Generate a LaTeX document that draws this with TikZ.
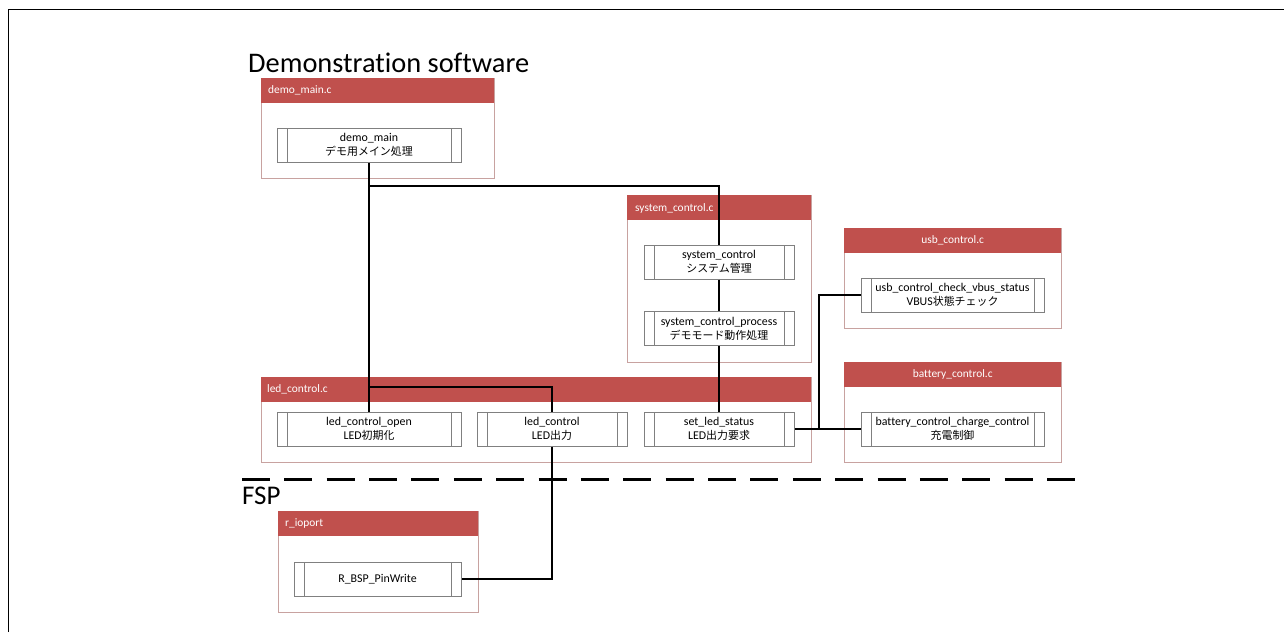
\documentclass[tikz,border=0pt]{standalone}
\usepackage{fontspec}
\setmainfont{Carlito}[Ligatures=NoCommon]
\newfontfamily\cjk{Noto Sans CJK JP}[Scale=0.92]
\definecolor{hdr}{HTML}{C0504D}
\definecolor{cframe}{RGB}{200,162,160}
\definecolor{fgray}{RGB}{128,128,128}
\pgfdeclarelayer{back}
\pgfsetlayers{back,main}
\begin{document}
\begin{tikzpicture}[x=1pt,y=-1pt,
  cbody/.style={draw=cframe, line width=1pt, fill=white, inner sep=0pt, anchor=north west},
  chead/.style={fill=hdr, inner sep=0pt, minimum height=25pt, anchor=north west},
  htext/.style={text=white, font=\fontsize{11.4}{13}\selectfont, inner sep=0pt},
  fbox/.style={draw=fgray, line width=1pt, fill=white, minimum width=#1,
    minimum height=34pt, inner sep=0pt, align=center,
    font=\fontsize{11.9}{14}\selectfont,
    path picture={\draw[fgray, line width=1pt]
      ([xshift=10pt]path picture bounding box.north west) -- ([xshift=10pt]path picture bounding box.south west)
      ([xshift=-10pt]path picture bounding box.north east) -- ([xshift=-10pt]path picture bounding box.south east);}},
  wire/.style={line width=1.8pt, black},
  sep/.style={line width=3pt, black, dash pattern=on 28pt off 14.37pt},
  heading/.style={font=\fontsize{28.4}{31}\selectfont, inner sep=0pt, anchor=base west}
]
\useasboundingbox (0,0) rectangle (1284,632);

% outer frame
\draw[line width=1.5pt] (8.5,632) -- (8.5,9.5) -- (1284,9.5);

% section headings and divider
\node[heading] (title) at (248,72) {Demonstration software};
\node[heading, font=\fontsize{27}{30}\selectfont] (fsp) at (242,504) {FSP};
\draw[sep] (242,479) -- (1075,479);

% source-file containers
\begin{pgfonlayer}{back}
\node[cbody, minimum width=233pt, minimum height=100pt] (demoC) at (261,78) {};
\node[chead, minimum width=233pt] (demoH) at (261,78) {};
\node[cbody, minimum width=184pt, minimum height=167pt] (sysC) at (627,195) {};
\node[chead, minimum width=184pt] (sysH) at (627,195) {};
\node[cbody, minimum width=217pt, minimum height=100pt] (usbC) at (844,228) {};
\node[chead, minimum width=217pt] (usbH) at (844,228) {};
\node[cbody, minimum width=217pt, minimum height=100pt] (batC) at (844,362) {};
\node[chead, minimum width=217pt] (batH) at (844,362) {};
\node[cbody, minimum width=550pt, minimum height=85pt] (ledC) at (261,377) {};
\node[chead, minimum width=550pt] (ledH) at (261,377) {};
\node[cbody, minimum width=200pt, minimum height=101pt] (rioC) at (278,511) {};
\node[chead, minimum width=200pt] (rioH) at (278,511) {};
\end{pgfonlayer}

\node[htext, anchor=west] (demoT) at (268,90.5) {demo\_main.c};
\node[htext, anchor=west] (sysT) at (635,208) {system\_control.c};
\node[htext] (usbT) at (usbH.center) {usb\_control.c};
\node[htext] (batT) at (batH.center) {battery\_control.c};
\node[htext, anchor=west] (ledT) at (267,389.5) {led\_control.c};
\node[htext, anchor=west] (rioT) at (285,523.5) {r\_ioport};

% functions
\node[fbox=184pt] (dm) at (369,145) {demo\_main\\{\cjk デモ用メイン処理}};
\node[fbox=150pt] (sc) at (719,262) {system\_control\\{\cjk システム管理}};
\node[fbox=150pt] (scp) at (719,328.5) {system\_control\_process\\{\cjk デモモード動作処理}};
\node[fbox=183pt] (usbf) at (952.5,295) {usb\_control\_check\_vbus\_status\\VBUS{\cjk 状態チェック}};
\node[fbox=183pt] (bcc) at (952.5,429) {battery\_control\_charge\_control\\{\cjk 充電制御}};
\node[fbox=184pt] (lco) at (369,429) {led\_control\_open\\LED{\cjk 初期化}};
\node[fbox=150pt] (lc) at (552,429) {led\_control\\LED{\cjk 出力}};
\node[fbox=150pt] (sls) at (719,429) {set\_led\_status\\LED{\cjk 出力要求}};
\node[fbox=167pt] (rbsp) at (377.5,579) {R\_BSP\_PinWrite};

% call relations
\coordinate (busA) at (369,186);
\coordinate (busB) at (369,387);
\coordinate (busC) at (819,429);
\draw[wire] (dm.south) -- (lco.north);
\draw[wire] (busA) -| (sc.north);
\draw[wire] (busB) -| (lc.north);
\draw[wire] (sc.south) -- (scp.north);
\draw[wire] (scp.south) -- (sls.north);
\draw[wire] (sls.east) -- (bcc.west);
\draw[wire] (busC) |- (usbf.west);
\draw[wire] (lc.south) |- (rbsp.east);
\end{tikzpicture}
\end{document}
